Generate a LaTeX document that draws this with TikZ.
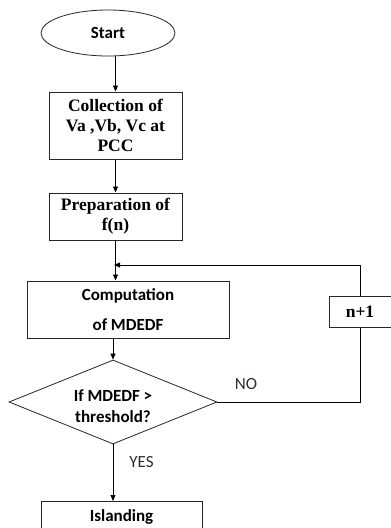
\documentclass[tikz,border=0pt]{standalone}
\usepackage{fontspec}
\setmainfont{Liberation Serif}
\newfontfamily\calib{Carlito}
\usetikzlibrary{shapes.geometric,arrows.meta}

\definecolor{lblgray}{RGB}{40,44,58}

\tikzstyle{box}=[rectangle, draw=black!85, line width=1pt, align=center, inner sep=2pt, font=\bfseries\fontsize{17.5}{20}\selectfont]
\tikzstyle{term}=[ellipse, draw=black!85, line width=0.8pt, inner sep=0pt, font=\calib\bfseries\fontsize{17}{20}\selectfont]
\tikzstyle{test}=[diamond, aspect=2.48, draw=black!85, line width=0.8pt, inner sep=0pt, align=center, font=\calib\bfseries\fontsize{17}{21}\selectfont]

\begin{document}
\begin{tikzpicture}[x=1pt, y=-1pt, >={Triangle[length=6pt,width=5pt]}, line width=0.8pt,
    el/.style = {inner sep=2pt, font=\calib\fontsize{17}{20}\selectfont, text=lblgray}]
    \useasboundingbox (0,0) rectangle (391,528);

    \node (start) [term, minimum width=134pt, minimum height=46pt] at (108,33) {Start};
    \node (collect) [box, minimum width=133pt, minimum height=67pt] at (115.5,125.5) {Collection of\\Va ,Vb, Vc at\\PCC};
    \node (prep) [box, minimum width=133pt, minimum height=47pt] at (115.5,216.5) {Preparation of\\f(n)};
    \node (comp) [box, font=\calib\bfseries\fontsize{17}{20}\selectfont, minimum width=202pt, minimum height=57pt] at (128,309.5) {Computation\\[10pt]of MDEDF};
    \node (incr) [box, minimum width=62pt, minimum height=31pt] at (360,311.5) {n+1};
    \node (decide) [test, minimum width=208pt, minimum height=84pt, text height=41pt] at (113,402) {If MDEDF >\\threshold?};
    \node (island) [box, font=\calib\bfseries\fontsize{17}{20}\selectfont, minimum width=161pt, anchor=north, text height=17pt, text depth=20pt, inner ysep=3pt] at (121.5,501) {Islanding};
    \coordinate (merge) at (114,265);

    \path[->]
    (collect.north |- start.south) edge (collect.north)
    (collect) edge (prep)
    (prep.south) edge (prep.south |- comp.north)
    (comp.south -| decide.north) edge (decide.north)
    (decide.south) edge node[el, right, xshift=14pt, pos=0.32] {YES} (decide.south |- island.north);

    \draw (decide.east) -| node[el, pos=0.1, above, yshift=10pt] {NO} (incr.south);
    \draw[->] (incr.north) |- (merge);
  \end{tikzpicture}
\end{document}
